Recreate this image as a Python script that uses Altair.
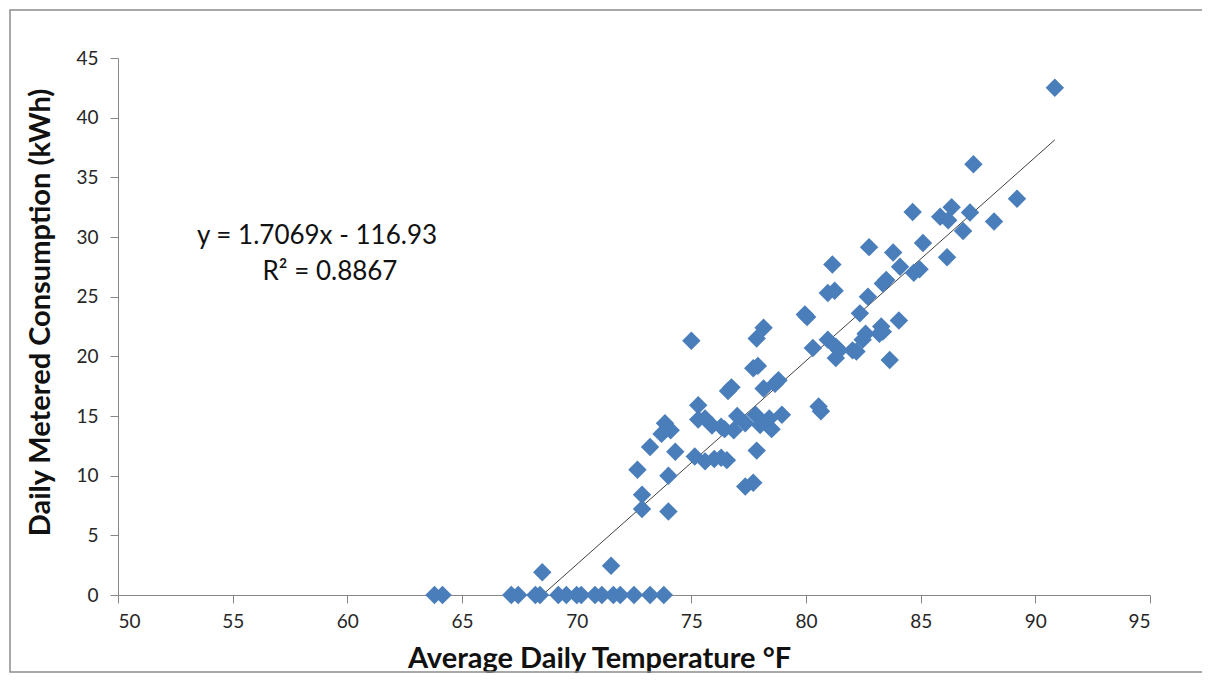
import altair as alt
import pandas as pd

# Average daily temperature (°F) and daily metered consumption (kWh)
temp = [
    63.8, 64.15, 67.15, 67.45, 68.2, 68.4, 69.2, 69.55, 70.0, 70.2, 70.8, 71.1,
    71.6, 71.9, 72.5, 73.2, 73.8,
    68.5, 71.5,
    72.65, 72.85, 72.85, 73.2, 73.85, 74.1, 73.7, 74.3, 74.0, 74.0,
    75.0, 75.3, 75.3, 75.6, 75.15, 75.6, 75.9, 76.0, 76.3, 76.3, 76.55, 76.45,
    76.6, 76.75, 76.85, 77.0, 77.35, 77.35, 77.7, 77.8, 77.7, 77.9, 77.85,
    77.85, 78.15, 78.0, 78.15, 78.4, 78.5, 78.8, 78.95, 78.65,
    79.95, 80.05, 80.3, 80.55, 80.65, 80.95, 81.15, 81.25, 80.95, 81.45, 81.3,
    81.3, 82.03, 82.2, 82.35, 82.47, 82.6, 82.7, 82.75, 83.2, 83.28, 83.35,
    83.35, 83.5, 83.65, 83.8, 84.05, 84.1, 84.7, 84.65, 84.95, 85.1, 85.85,
    86.2, 86.35, 86.15, 86.85, 87.15, 87.3, 88.2, 89.2, 90.85,
]
kwh = [
    0, 0, 0, 0, 0, 0, 0, 0, 0, 0, 0, 0,
    0, 0, 0, 0, 0,
    1.9, 2.45,
    10.5, 8.4, 7.2, 12.4, 14.4, 13.8, 13.5, 12.0, 10.0, 7.0,
    21.3, 15.9, 14.7, 14.8, 11.6, 11.2, 14.2, 11.4, 11.5, 14.1, 11.3, 13.9,
    17.1, 17.4, 13.8, 15.0, 14.4, 9.1, 9.4, 15.1, 19.0, 19.2, 12.1,
    21.5, 22.4, 14.25, 17.3, 14.8, 13.9, 18.0, 15.1, 17.7,
    23.5, 23.3, 20.7, 15.8, 15.4, 25.3, 27.7, 25.5, 21.4, 20.5, 19.85,
    20.8, 20.5, 20.4, 23.6, 21.4, 21.9, 25.0, 29.15, 21.9, 22.5, 22.07,
    26.1, 26.4, 19.7, 28.7, 23.0, 27.5, 27.0, 32.1, 27.3, 29.5, 31.7,
    31.4, 32.5, 28.3, 30.5, 32.05, 36.1, 31.3, 33.2, 42.5,
]

# Linear trendline shown in the reference
slope = 1.7069
intercept = -116.93
equation_text = ["y = 1.7069x - 116.93"]
r2_text = ["R² = 0.8867"]

x_ticks = [50, 55, 60, 65, 70, 75, 80, 85, 90, 95]
y_ticks = [0, 5, 10, 15, 20, 25, 30, 35, 40, 45]

df = pd.DataFrame({"temp": temp, "kwh": kwh})
x_min, x_max = min(temp), max(temp)
trend = pd.DataFrame({
    "temp": [x_min, x_max],
    "kwh": [slope * x_min + intercept, slope * x_max + intercept],
})

FONT = "Lato"
W, H = 1032, 537

xscale = alt.Scale(domain=[50, 95], nice=False, zero=False)
yscale = alt.Scale(domain=[0, 45], nice=False)

xaxis = alt.Axis(
    values=x_ticks, title="Average Daily Temperature °F", grid=False,
    labelFontSize=19, labelColor="#262626", labelFont=FONT, labelPadding=9,
    tickSize=8, tickColor="#868686", domainColor="#868686",
    titleFont=FONT, titleFontSize=29, titleFontWeight="bold", titleColor="#111111",
    titleX=481, titleY=63, titleBaseline="middle", titleAnchor="middle",
)
yaxis = alt.Axis(
    values=y_ticks, title="Daily Metered Consumption (kWh)", grid=False,
    labelFontSize=19, labelColor="#262626", labelFont=FONT, labelPadding=12,
    tickSize=8, tickColor="#868686", domainColor="#868686",
    titleFont=FONT, titleFontSize=29, titleFontWeight="bold", titleColor="#111111",
    titleX=-78, titleY=254, titleBaseline="middle", titleAnchor="middle",
)

points = alt.Chart(df).mark_point(
    shape="diamond", filled=True, size=340, color="#4a7ebb", opacity=1
).encode(
    x=alt.X("temp:Q", scale=xscale, axis=xaxis),
    y=alt.Y("kwh:Q", scale=yscale, axis=yaxis),
)

line = alt.Chart(trend).mark_line(color="#404040", strokeWidth=1, clip=True).encode(
    x=alt.X("temp:Q", scale=xscale),
    y=alt.Y("kwh:Q", scale=yscale),
)

eq = alt.Chart(pd.DataFrame({"t": equation_text})).mark_text(
    font=FONT, fontSize=26, color="#111111", align="center", baseline="middle"
).encode(text="t:N", x=alt.value(199), y=alt.value(178))

r2 = alt.Chart(pd.DataFrame({"t": r2_text})).mark_text(
    font=FONT, fontSize=26, color="#111111", align="center", baseline="middle"
).encode(text="t:N", x=alt.value(212), y=alt.value(214))

border = alt.Chart(pd.DataFrame({"a": [0]})).mark_rect(
    fillOpacity=0, stroke="#8c8c8c", strokeWidth=1.5
).encode(
    x=alt.value(-108), x2=alt.value(1090), y=alt.value(-48), y2=alt.value(614)
)

chart = alt.layer(border, line, points, eq, r2).properties(
    width=W, height=H,
    autosize=alt.AutoSizeParams(type="none"),
    padding={"left": 110, "top": 50, "right": 52, "bottom": 80},
).configure_view(stroke=None)

chart.save("out.html", embed_options={"renderer": "svg", "actions": False})
